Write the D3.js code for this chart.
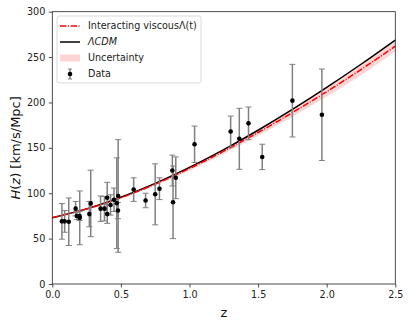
<!DOCTYPE html>
<html>
<head>
<meta charset="utf-8">
<style>
  body { margin: 0; background: #fff; }
  svg { display: block; font-family: "DejaVu Sans", sans-serif; }
</style>
</head>
<body>
<div id="chart"></div>
<script src="https://cdnjs.cloudflare.com/ajax/libs/d3/7.6.1/d3.min.js"></script>
<script>
// observational H(z) points
const dataZ = [0.07, 0.09, 0.12, 0.17, 0.179, 0.199, 0.2, 0.27, 0.28, 0.352, 0.3802, 0.4, 0.4004, 0.4247,
               0.4497, 0.47, 0.4783, 0.48, 0.593, 0.68, 0.75, 0.781, 0.875, 0.88, 0.9, 1.037, 1.3, 1.363,
               1.43, 1.53, 1.75, 1.965];
const dataH = [69, 69, 68.6, 83, 75, 75, 72.9, 77, 88.8, 83, 83, 95, 77, 87.1,
               92.8, 89, 80.9, 97, 104, 92, 98.8, 105, 125, 90, 117, 154, 168, 160,
               177, 140, 202, 186.5];
const dataErr = [19.6, 12, 26.2, 8, 4, 5, 29.6, 14, 36.6, 14, 13.5, 17, 10.2, 11.2,
                 12.9, 50, 9, 62, 13, 8, 33.6, 12, 17, 40, 23, 20, 17, 33.6,
                 18, 14, 40, 50.4];

// model curves
const curveZ = [0, 0.25, 0.5, 0.75, 1.0, 1.25, 1.5, 1.75, 2.0, 2.25, 2.5];
const lcdmH = [73, 82.8, 95.5, 110.9, 128.5, 148.1, 169.4, 192.3, 216.6, 242.1, 268.8];
const viscH = [73, 82.6, 95.0, 110.0, 127.2, 146.3, 166.9, 188.8, 211.9, 236.3, 262.0];
const bandLo = [73, 82.1, 93.9, 108.4, 124.9, 143.3, 163.2, 184.3, 206.5, 230.0, 256.5];
const bandHi = [73, 83.0, 95.9, 111.5, 129.3, 149.0, 170.2, 192.8, 216.6, 241.8, 267.2];

const xTicks = [0, 0.5, 1.0, 1.5, 2.0, 2.5];
const yTicks = [0, 50, 100, 150, 200, 250, 300];

const W = 409, H = 327;
const margin = { left: 52.3, right: 409 - 395.3, top: 11.7, bottom: 327 - 284 };

const svg = d3.select("#chart").append("svg").attr("width", W).attr("height", H);

const x = d3.scaleLinear().domain([0, 2.5]).range([margin.left, W - margin.right]);
const y = d3.scaleLinear().domain([0, 300]).range([H - margin.bottom, margin.top]);

const plot = svg.append("g");

// uncertainty band
const band = curveZ.map((z, i) => ({ z, lo: bandLo[i], hi: bandHi[i] }));
plot.append("path")
  .datum(band)
  .attr("fill", "#ff0000").attr("fill-opacity", 0.17)
  .attr("d", d3.area().x(d => x(d.z)).y0(d => y(d.lo)).y1(d => y(d.hi)).curve(d3.curveNatural));

// LCDM
plot.append("path")
  .datum(curveZ.map((z, i) => [z, lcdmH[i]]))
  .attr("fill", "none").attr("stroke", "#000").attr("stroke-width", 1.5)
  .attr("d", d3.line().x(d => x(d[0])).y(d => y(d[1])).curve(d3.curveNatural));

// interacting viscous
plot.append("path")
  .datum(curveZ.map((z, i) => [z, viscH[i]]))
  .attr("fill", "none").attr("stroke", "#ff0000").attr("stroke-width", 1.5)
  .attr("stroke-dasharray", "6.4,1.6,1,1.6")
  .attr("d", d3.line().x(d => x(d[0])).y(d => y(d[1])).curve(d3.curveNatural));

// error bars
const pts = dataZ.map((z, i) => ({ z, h: dataH[i], e: dataErr[i] }));
const eb = plot.append("g").attr("stroke", "#808080").attr("stroke-width", 1.5);
pts.forEach(d => {
  const cx = x(d.z), y0 = y(d.h - d.e), y1 = y(d.h + d.e);
  eb.append("line").attr("x1", cx).attr("x2", cx).attr("y1", y0).attr("y2", y1);
  eb.append("line").attr("x1", cx - 3).attr("x2", cx + 3).attr("y1", y0).attr("y2", y0).attr("stroke-width", 1);
  eb.append("line").attr("x1", cx - 3).attr("x2", cx + 3).attr("y1", y1).attr("y2", y1).attr("stroke-width", 1);
});
plot.append("g").selectAll("circle").data(pts).join("circle")
  .attr("cx", d => x(d.z)).attr("cy", d => y(d.h)).attr("r", 2.3).attr("fill", "#000");

// axes
const xAxis = svg.append("g").attr("transform", `translate(0,${H - margin.bottom})`)
  .call(d3.axisBottom(x).tickValues(xTicks).tickFormat(d3.format(".1f")).tickSize(3.5).tickPadding(3.5));
const yAxis = svg.append("g").attr("transform", `translate(${margin.left},0)`)
  .call(d3.axisLeft(y).tickValues(yTicks).tickSize(3.5).tickPadding(3.5));
[xAxis, yAxis].forEach(g => {
  g.selectAll("text").attr("font-size", 9.6).attr("font-family", "DejaVu Sans").attr("fill", "#222");
  g.selectAll("line").attr("stroke", "#222").attr("stroke-width", 0.8);
  g.select(".domain").remove();
});

// frame
svg.append("rect")
  .attr("x", margin.left).attr("y", margin.top)
  .attr("width", W - margin.left - margin.right).attr("height", H - margin.top - margin.bottom)
  .attr("fill", "none").attr("stroke", "#222").attr("stroke-width", 0.8);

// axis labels
svg.append("text").attr("x", (margin.left + W - margin.right) / 2).attr("y", 317)
  .attr("text-anchor", "middle").attr("font-size", 13).attr("fill", "#111").text("z");
const yl = svg.append("text").attr("transform", `translate(20,${(margin.top + H - margin.bottom) / 2}) rotate(-90)`)
  .attr("text-anchor", "middle").attr("font-size", 13).attr("fill", "#111");
yl.append("tspan").attr("font-style", "italic").text("H");
yl.append("tspan").text("(");
yl.append("tspan").attr("font-style", "italic").text("z");
yl.append("tspan").text(") [km/s/Mpc]");

// legend
const lg = svg.append("g").attr("transform", "translate(57,16)");
lg.append("rect").attr("width", 144).attr("height", 67).attr("rx", 2)
  .attr("fill", "#fff").attr("fill-opacity", 0.8).attr("stroke", "#d0d0d0").attr("stroke-width", 0.8);
const rowY = [10, 26, 42, 58];
lg.append("line").attr("x1", 3).attr("x2", 23).attr("y1", rowY[0]).attr("y2", rowY[0])
  .attr("stroke", "#ff0000").attr("stroke-width", 1.5).attr("stroke-dasharray", "6.4,1.6,1,1.6");
lg.append("line").attr("x1", 3).attr("x2", 23).attr("y1", rowY[1]).attr("y2", rowY[1])
  .attr("stroke", "#000").attr("stroke-width", 1.5);
lg.append("rect").attr("x", 3).attr("y", rowY[2] - 3.5).attr("width", 20).attr("height", 7)
  .attr("fill", "#ff0000").attr("fill-opacity", 0.17);
const leb = lg.append("g").attr("stroke", "#808080");
leb.append("line").attr("x1", 13).attr("x2", 13).attr("y1", rowY[3] - 5).attr("y2", rowY[3] + 5).attr("stroke-width", 1.5);
leb.append("line").attr("x1", 11).attr("x2", 15).attr("y1", rowY[3] - 5).attr("y2", rowY[3] - 5);
leb.append("line").attr("x1", 11).attr("x2", 15).attr("y1", rowY[3] + 5).attr("y2", rowY[3] + 5);
lg.append("circle").attr("cx", 13).attr("cy", rowY[3]).attr("r", 2.3).attr("fill", "#000");

const labels = ["Interacting viscous\u039B(t)", "\u039BCDM", "Uncertainty", "Data"];
labels.forEach((t, i) => {
  lg.append("text").attr("x", 31).attr("y", rowY[i]).attr("dy", "0.35em")
    .attr("font-size", 9.6).attr("fill", "#222")
    .attr("font-style", i === 1 ? "italic" : null).text(t);
});
</script>
</body>
</html>
